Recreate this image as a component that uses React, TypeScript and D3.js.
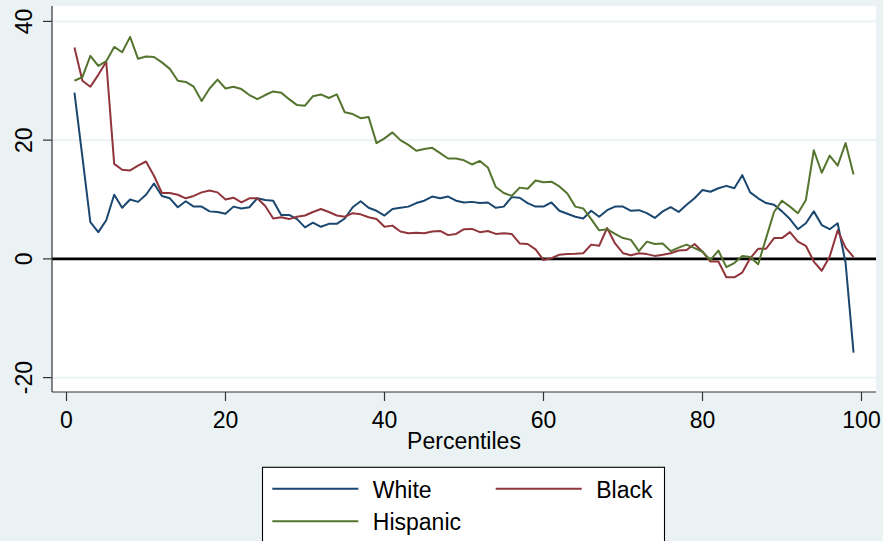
import React from "react";
import * as d3 from "d3";

const percentiles = [
  1, 2, 3, 4, 5, 6, 7, 8, 9, 10, 11, 12, 13, 14, 15, 16, 17, 18, 19, 20,
  21, 22, 23, 24, 25, 26, 27, 28, 29, 30, 31, 32, 33, 34, 35, 36, 37, 38, 39, 40,
  41, 42, 43, 44, 45, 46, 47, 48, 49, 50, 51, 52, 53, 54, 55, 56, 57, 58, 59, 60,
  61, 62, 63, 64, 65, 66, 67, 68, 69, 70, 71, 72, 73, 74, 75, 76, 77, 78, 79, 80,
  81, 82, 83, 84, 85, 86, 87, 88, 89, 90, 91, 92, 93, 94, 95, 96, 97, 98, 99,
];

const white = [
  28.0, 17.2, 6.2, 4.5, 6.5, 10.8, 8.6, 10.0, 9.6, 10.8,
  12.7, 10.6, 10.2, 8.7, 9.7, 8.8, 8.8, 8.0, 7.9, 7.6,
  8.8, 8.5, 8.7, 10.2, 9.9, 9.8, 7.4, 7.4, 6.7, 5.3,
  6.1, 5.4, 5.9, 5.9, 6.8, 8.7, 9.7, 8.6, 8.1, 7.3,
  8.4, 8.6, 8.8, 9.4, 9.8, 10.5, 10.2, 10.5, 9.8, 9.5,
  9.6, 9.4, 9.5, 8.6, 8.8, 10.4, 10.3, 9.4, 8.8, 8.8,
  9.5, 8.1, 7.6, 7.1, 6.8, 8.1, 7.1, 8.2, 8.8, 8.8,
  8.1, 8.2, 7.7, 6.9, 8.0, 8.7, 7.9, 9.1, 10.2, 11.6,
  11.3, 11.9, 12.3, 11.9, 14.1, 11.2, 10.2, 9.4, 9.1, 8.0,
  6.7, 5.0, 6.0, 8.0, 5.7, 5.0, 6.0, -0.7, -15.8,
];

const black = [
  35.6, 30.0, 29.0, 31.0, 33.2, 16.0, 15.0, 14.9, 15.7, 16.4,
  14.0, 11.1, 11.1, 10.8, 10.2, 10.6, 11.2, 11.5, 11.2, 10.0,
  10.3, 9.5, 10.2, 10.2, 8.9, 6.8, 7.0, 6.7, 7.1, 7.3,
  7.9, 8.4, 7.9, 7.3, 7.1, 7.7, 7.5, 7.0, 6.7, 5.4,
  5.6, 4.6, 4.3, 4.4, 4.3, 4.6, 4.7, 4.0, 4.2, 5.0,
  5.05, 4.5, 4.7, 4.2, 4.3, 4.2, 2.6, 2.5, 1.6, -0.2,
  0.1, 0.7, 0.8, 0.85, 0.95, 2.4, 2.2, 5.2, 2.6, 0.95,
  0.6, 0.95, 0.8, 0.5, 0.7, 0.95, 1.4, 1.5, 2.5, 1.2,
  -0.45, -0.45, -3.1, -3.1, -2.3, 0.1, 1.7, 1.7, 3.5, 3.5,
  4.5, 2.9, 2.2, -0.45, -2.0, 0.4, 4.8, 1.9, 0.3,
];

const hispanic = [
  30.0, 30.6, 34.2, 32.5, 33.3, 35.7, 34.8, 37.4, 33.7, 34.1,
  34.0, 33.1, 32.0, 30.0, 29.8, 29.0, 26.6, 28.7, 30.2, 28.7,
  29.0, 28.6, 27.6, 26.9, 27.6, 28.2, 28.0, 26.9, 25.9, 25.8,
  27.4, 27.7, 27.1, 27.7, 24.7, 24.4, 23.7, 23.9, 19.5, 20.3,
  21.3, 20.0, 19.2, 18.2, 18.5, 18.7, 17.8, 16.9, 16.9, 16.6,
  15.9, 16.5, 15.4, 12.1, 11.1, 10.6, 12.0, 11.8, 13.2, 12.9,
  13.0, 12.2, 11.0, 8.8, 8.5, 6.7, 4.8, 5.0, 4.2, 3.5,
  3.2, 1.3, 2.9, 2.5, 2.6, 1.3, 1.9, 2.4, 1.8, 1.2,
  -0.2, 1.4, -1.4, -0.7, 0.5, 0.3, -0.9, 3.5, 7.9, 9.8,
  8.8, 7.7, 9.9, 18.3, 14.5, 17.4, 15.7, 19.5, 14.2,
];

const xTicks = [0, 20, 40, 60, 80, 100];
const yTicks = [-20, 0, 20, 40];
const seriesNames = ["White", "Black", "Hispanic"];
const seriesColors = ["#1A476F", "#90353B", "#55752F"];
const xTitle = "Percentiles";

const W = 883;
const H = 541;
const FONT = "'Liberation Sans', Arial, Helvetica, sans-serif";

export default function App() {
  const plot = { left: 52, right: 876, top: 6, bottom: 392 };
  const x = d3.scaleLinear().domain([0, 100]).range([66.5, 861.5]);
  const y = d3.scaleLinear().domain([-20, 40]).range([377.6, 21.4]);

  const seriesData = [white, black, hispanic];
  const line = d3
    .line<number>()
    .x((_, i) => x(percentiles[i]))
    .y((d) => y(d));

  const legendItems = [
    { name: seriesNames[0], color: seriesColors[0], lx: 272.3, ty: 488.7 },
    { name: seriesNames[1], color: seriesColors[1], lx: 495.7, ty: 488.7 },
    { name: seriesNames[2], color: seriesColors[2], lx: 272.3, ty: 521.3 },
  ];

  return (
    <svg
      width={W}
      height={H}
      style={{ position: "absolute", left: 0, top: 0, display: "block" }}
      fontFamily={FONT}
    >
      <rect x={0} y={0} width={W} height={H} fill="#EAF2F3" />
      <rect
        x={plot.left}
        y={plot.top}
        width={plot.right - plot.left}
        height={plot.bottom - plot.top}
        fill="#ffffff"
      />
      {/* gridlines */}
      {yTicks
        .filter((t) => t !== 0)
        .map((t) => (
          <line
            key={"g" + t}
            x1={plot.left}
            x2={plot.right}
            y1={y(t)}
            y2={y(t)}
            stroke="#EAF2F3"
            strokeWidth={1.6}
          />
        ))}
      {/* zero line */}
      <line
        x1={plot.left}
        x2={plot.right}
        y1={y(0)}
        y2={y(0)}
        stroke="#000"
        strokeWidth={2.6}
      />
      {/* series */}
      {seriesData.map((s, i) => (
        <path
          key={seriesNames[i]}
          d={line(s) || ""}
          fill="none"
          stroke={seriesColors[i]}
          strokeWidth={2}
          strokeLinejoin="round"
        />
      ))}
      {/* axes */}
      <line x1={plot.left} x2={plot.left} y1={plot.top} y2={plot.bottom} stroke="#333" strokeWidth={1.2} />
      <line x1={plot.left} x2={plot.right} y1={plot.bottom} y2={plot.bottom} stroke="#333" strokeWidth={1.2} />
      {yTicks.map((t) => (
        <g key={"yt" + t}>
          <line x1={43} x2={plot.left} y1={y(t)} y2={y(t)} stroke="#333" strokeWidth={1.2} />
          <text
            transform={`translate(31.7,${y(t)}) rotate(-90)`}
            textAnchor="middle"
            fontSize={23}
            fill="#000"
          >
            {t}
          </text>
        </g>
      ))}
      {xTicks.map((t) => (
        <g key={"xt" + t}>
          <line x1={x(t)} x2={x(t)} y1={plot.bottom} y2={401} stroke="#333" strokeWidth={1.2} />
          <text x={x(t)} y={428.3} textAnchor="middle" fontSize={23} fill="#000">
            {t}
          </text>
        </g>
      ))}
      <text x={(plot.left + plot.right) / 2} y={449.3} textAnchor="middle" fontSize={23} fill="#000">
        {xTitle}
      </text>
      {/* legend */}
      <rect x={262.5} y={467.3} width={402} height={90} fill="#fff" stroke="#000" strokeWidth={1.1} />
      {legendItems.map((it) => (
        <g key={"lg" + it.name}>
          <line x1={it.lx} x2={it.lx + 86} y1={it.ty} y2={it.ty} stroke={it.color} strokeWidth={2} />
          <text x={it.lx + 100.5} y={it.ty + 9} fontSize={23} fill="#000">
            {it.name}
          </text>
        </g>
      ))}
    </svg>
  );
}
